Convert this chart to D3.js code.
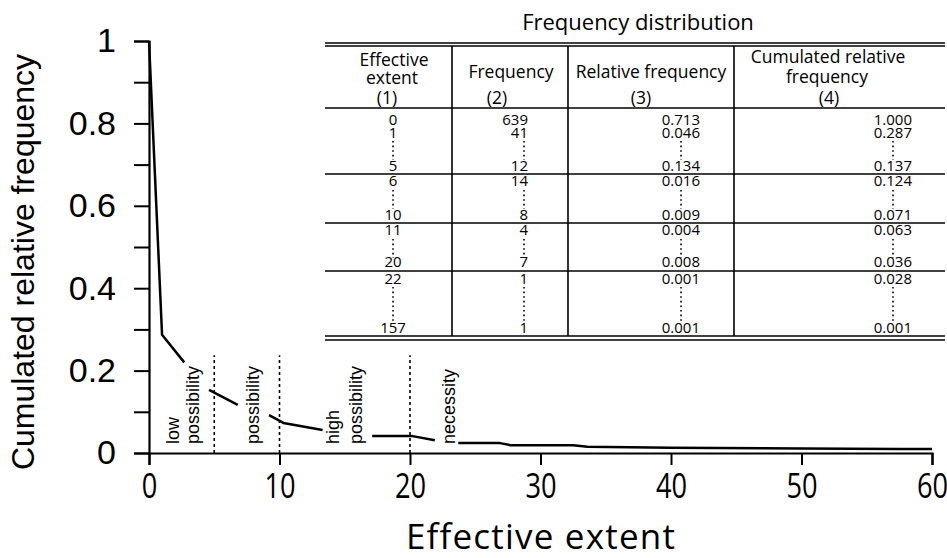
<!DOCTYPE html>
<html>
<head>
<meta charset="utf-8">
<script src="https://cdn.jsdelivr.net/npm/d3@7"></script>
<style>
  body { margin: 0; background: #fff; }
  svg { display: block; }
</style>
</head>
<body>
<svg id="chart" width="947" height="558"></svg>
<script>
// curve (null = gap where a zone label sits)
const curveX = [0, 1, 2.7, null, 4.6, 6.8, null, 9.2, 10.3, 13.3, null, 17.1, 20.2, 21.9, null, 23.7, 26.9, 27.7, 32.5, 33.6, 40, 50, 57.5, 60];
const curveY = [1.0, 0.287, 0.22, null, 0.153, 0.117, null, 0.092, 0.073, 0.056, null, 0.041, 0.041, 0.031, null, 0.024, 0.024, 0.019, 0.019, 0.015, 0.013, 0.011, 0.010, 0.010];

const xTicks = [0, 10, 20, 30, 40, 50, 60];
const yTicks = [0, 0.1, 0.2, 0.3, 0.4, 0.5, 0.6, 0.7, 0.8, 0.9, 1];
const yTickLabels = ["0", "", "0.2", "", "0.4", "", "0.6", "", "0.8", "", "1"];

const boundaries = [5, 10, 20];
const zoneNames = [["low", "possibility"], ["possibility"], ["high", "possibility"], ["necessity"]];

// table
const tableTitle = "Frequency distribution";
const headers = [["Effective", "extent", "(1)"], ["Frequency", "(2)"], ["Relative frequency", "(3)"], ["Cumulated relative", "frequency", "(4)"]];
const tableExtent = ["0", "1", "5", "6", "10", "11", "20", "22", "157"];
const tableFreq = ["639", "41", "12", "14", "8", "4", "7", "1", "1"];
const tableRel = ["0.713", "0.046", "0.134", "0.016", "0.009", "0.004", "0.008", "0.001", "0.001"];
const tableCum = ["1.000", "0.287", "0.137", "0.124", "0.071", "0.063", "0.036", "0.028", "0.001"];

const svg = d3.select("#chart");

const x = d3.scaleLinear().domain([0, 60]).range([149, 932]);
const y = d3.scaleLinear().domain([0, 1]).range([453, 41]);

// dotted zone boundaries
svg.selectAll("line.bound")
  .data(boundaries)
  .enter()
  .append("line")
  .attr("x1", d => x(d)).attr("x2", d => x(d))
  .attr("y1", y(0)).attr("y2", y(0.237))
  .attr("stroke", "#000")
  .attr("stroke-width", 1.6)
  .attr("stroke-dasharray", "3,3");

// curve
const pts = curveX.map((d, i) => [d, curveY[i]]);
const line = d3.line()
  .defined(d => d[0] !== null)
  .x(d => x(d[0]))
  .y(d => y(d[1]));

svg.append("path")
  .datum(pts)
  .attr("d", line)
  .attr("fill", "none")
  .attr("stroke", "#000")
  .attr("stroke-width", 2.5)
  .attr("stroke-linejoin", "round");

// axes
const yAxis = d3.axisLeft(y).tickValues(yTicks).tickSize(15)
  .tickFormat((d, i) => yTickLabels[i]);
const gy = svg.append("g").attr("transform", `translate(${x(0)},0)`).call(yAxis);
gy.select(".domain").attr("stroke-width", 2.2);
gy.selectAll(".tick line").attr("stroke-width", 2);
gy.selectAll(".tick text")
  .attr("x", -33)
  .style("font-family", "'Liberation Sans', Arial, sans-serif")
  .style("font-size", "34px")
  .attr("fill", "#000");

const xAxis = d3.axisBottom(x).tickValues(xTicks).tickSize(12).tickFormat(d3.format("d"));
const gx = svg.append("g").attr("transform", `translate(0,${y(0)})`).call(xAxis);
gx.select(".domain").attr("stroke-width", 2.2);
gx.selectAll(".tick line").attr("stroke-width", 2);
gx.selectAll(".tick text")
  .attr("y", 0)
  .attr("dy", 0)
  .attr("transform", "translate(0,45) scale(0.8,1)")
  .style("font-family", "'Open Sans', sans-serif")
  .style("font-size", "34px")
  .attr("fill", "#000");

// axis titles
svg.append("text")
  .attr("transform", "translate(34,262) rotate(-90)")
  .attr("text-anchor", "middle")
  .style("font-family", "'Liberation Sans', Arial, sans-serif")
  .style("font-size", "32px")
  .text("Cumulated relative frequency");

svg.append("text")
  .attr("x", 541).attr("y", 549)
  .attr("text-anchor", "middle")
  .style("font-family", "'Open Sans', sans-serif")
  .style("font-size", "35px")
  .style("letter-spacing", "1.2px")
  .text("Effective extent");

// zone labels (rotated, reading upward)
const zoneX = [[1.85, 3.4], [8.0], [14.1, 15.9], [23.0]];
zoneNames.forEach((names, i) => {
  names.forEach((t, j) => {
    svg.append("text")
      .attr("transform", `translate(${x(zoneX[i][j]) + 6},444) rotate(-90)`)
      .style("font-family", "'Liberation Sans', Arial, sans-serif")
      .style("font-size", "18px")
      .text(t);
  });
});

// ---- table ----
const tl = 325, tr = 945;
const colX = [452, 568, 734];
const tbl = svg.append("g")
  .style("font-family", "'Open Sans', sans-serif")
  .attr("fill", "#000");

tbl.append("text")
  .attr("x", 638).attr("y", 30)
  .attr("text-anchor", "middle")
  .style("font-size", "22px")
  .text(tableTitle);

const hLines = [43, 46, 108, 174, 223, 271, 336, 340];
tbl.selectAll("line.h")
  .data(hLines)
  .enter()
  .append("line")
  .attr("x1", tl).attr("x2", tr)
  .attr("y1", d => d).attr("y2", d => d)
  .attr("stroke", "#000")
  .attr("stroke-width", 1.6);

tbl.selectAll("line.v")
  .data(colX)
  .enter()
  .append("line")
  .attr("x1", d => d).attr("x2", d => d)
  .attr("y1", 46).attr("y2", 336)
  .attr("stroke", "#000")
  .attr("stroke-width", 1.6);

// headers
const headCx = [[394, 392, 387], [511, 497], [651, 641], [828, 827, 829]];
const headY = [[66, 84, 104], [78, 104], [78, 104], [63, 83, 104]];
headers.forEach((lines, i) => {
  lines.forEach((t, j) => {
    tbl.append("text")
      .attr("x", headCx[i][j]).attr("y", headY[i][j])
      .attr("text-anchor", "middle")
      .style("font-size", "17.5px")
      .text(t);
  });
});

// body
const rowY = [125, 138, 171, 186, 220, 235, 267, 284, 333];
const cols = [
  { vals: tableExtent, x: 393, anchor: "middle", dot: 393 },
  { vals: tableFreq, x: 528, anchor: "end", dot: 524 },
  { vals: tableRel, x: 700, anchor: "end", dot: 681 },
  { vals: tableCum, x: 912, anchor: "end", dot: 893 }
];
const dotRuns = [[141, 160], [190, 209], [239, 258], [287, 322]];

cols.forEach(c => {
  tbl.selectAll(null)
    .data(c.vals)
    .enter()
    .append("text")
    .attr("x", c.x)
    .attr("y", (d, i) => rowY[i])
    .attr("text-anchor", c.anchor)
    .style("font-size", "15px")
    .text(d => d);

  tbl.selectAll(null)
    .data(dotRuns)
    .enter()
    .append("line")
    .attr("x1", c.dot).attr("x2", c.dot)
    .attr("y1", d => d[0]).attr("y2", d => d[1])
    .attr("stroke", "#000")
    .attr("stroke-width", 1.6)
    .attr("stroke-dasharray", "1.6,3");
});
</script>
</body>
</html>
